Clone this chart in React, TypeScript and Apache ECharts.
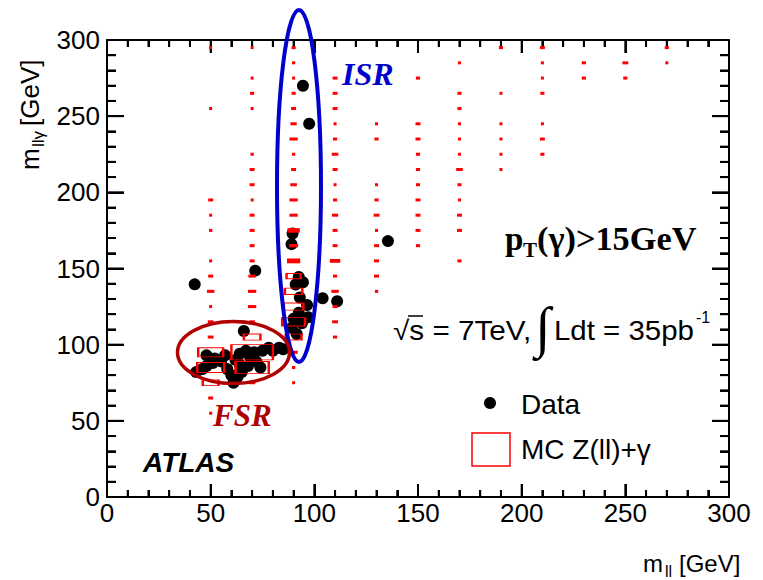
import React, { useEffect, useRef } from "react";
import * as echarts from "echarts";

// ---- layout of the plotting frame ----
const W = 763;
const H = 580;
const gridBox = { left: 107, right: 34, top: 40, bottom: 83 };

// ---- axis ranges / ticks ----
const xRange = [0, 300];
const yRange = [0, 300];
const tickStep = 50;
const minorStep = 10;
const xTickLen = [13, 7]; // major, minor
const yTickLen = [17, 9];

// ---- Data points [m_ll, m_llgamma] (GeV) ----
const dataPoints: number[][] = [
  [94.5, 270], [97.5, 245], [135.5, 168], [42.3, 139.6], [71.5, 148.6], [66, 109],
  [104, 130.5], [111, 128.5],
  [89.5, 173], [89, 166], [92.5, 144.5], [94.5, 141], [91, 139.5], [96.5, 126],
  [92.5, 121], [90, 117], [94, 114], [89, 111], [91.5, 107], [97, 118], [93, 131],
  [43, 82], [46, 84], [48, 86], [51, 88], [48, 93], [52, 91], [55, 89], [58, 84],
  [60, 80], [62, 77], [63, 79], [65, 82], [64, 87], [62, 90], [64, 94], [67, 96],
  [69, 92], [71, 95], [72, 89], [74, 85], [75, 96], [78, 98], [80, 96], [83, 98],
  [85, 97], [61, 75], [68, 86], [57, 93],
];

// ---- MC Z(ll)+gamma 2D histogram: [bin centre x, bin centre y, relative box size] ----
const mcBinWidth = [20, 10];
const mcCol50: number[][] = [
  [50, 295, 0.06], [50, 255, 0.06], [50, 195, 0.12], [50, 185, 0.06], [50, 175, 0.08],
  [50, 155, 0.06], [50, 145, 0.12], [50, 135, 0.18], [50, 125, 0.06], [50, 115, 0.14],
  [50, 105, 0.14], [50, 95, 0.6], [50, 85, 0.65], [50, 75, 0.38], [50, 65, 0.12], [50, 55, 0.07],
];
const mcCol70: number[][] = [
  [70, 295, 0.06], [70, 275, 0.06], [70, 265, 0.1], [70, 255, 0.06], [70, 225, 0.08],
  [70, 215, 0.12], [70, 205, 0.12], [70, 195, 0.06], [70, 185, 0.12], [70, 175, 0.12],
  [70, 165, 0.12], [70, 155, 0.12], [70, 145, 0.18], [70, 135, 0.2], [70, 125, 0.2],
  [70, 115, 0.14], [70, 105, 0.4], [70, 95, 1.0], [70, 85, 0.8], [70, 75, 0.15],
];
const mcCol90: number[][] = [
  [90, 295, 0.1], [90, 285, 0.08], [90, 275, 0.07], [90, 265, 0.1], [90, 255, 0.12],
  [90, 245, 0.15], [90, 235, 0.2], [90, 225, 0.08], [90, 215, 0.12], [90, 205, 0.16],
  [90, 195, 0.2], [90, 185, 0.2], [90, 175, 0.3], [90, 165, 0.22], [90, 155, 0.32],
  [90, 145, 0.34], [90, 135, 0.42], [90, 125, 0.47], [90, 115, 0.55], [90, 105, 0.38],
  [90, 95, 0.2], [90, 85, 0.08], [90, 75, 0.06],
];
const mcCol110: number[][] = [
  [110, 275, 0.12], [110, 265, 0.12], [110, 255, 0.12], [110, 245, 0.06], [110, 235, 0.1],
  [110, 225, 0.16], [110, 215, 0.12], [110, 205, 0.06], [110, 195, 0.1], [110, 185, 0.15],
  [110, 175, 0.12], [110, 165, 0.12], [110, 155, 0.25], [110, 145, 0.1], [110, 135, 0.18],
  [110, 125, 0.12], [110, 115, 0.14], [110, 105, 0.1],
];
const mcCol130: number[][] = [
  [130, 245, 0.06], [130, 235, 0.1], [130, 205, 0.06], [130, 195, 0.1], [130, 185, 0.14],
  [130, 175, 0.06], [130, 165, 0.12], [130, 155, 0.12], [130, 145, 0.12], [130, 135, 0.08],
];
const mcCol150: number[][] = [
  [150, 275, 0.1], [150, 245, 0.12], [150, 235, 0.12], [150, 225, 0.1], [150, 215, 0.1],
  [150, 205, 0.1], [150, 195, 0.12], [150, 185, 0.12], [150, 175, 0.12], [150, 165, 0.1],
];
const mcCol170: number[][] = [
  [170, 285, 0.06], [170, 265, 0.1], [170, 255, 0.1], [170, 245, 0.06], [170, 235, 0.07],
  [170, 225, 0.07], [170, 215, 0.16], [170, 205, 0.1], [170, 195, 0.06], [170, 185, 0.12],
  [170, 175, 0.12], [170, 155, 0.1],
];
const mcCol190: number[][] = [
  [190, 295, 0.1], [190, 265, 0.06], [190, 245, 0.06], [190, 235, 0.07], [190, 225, 0.06],
  [190, 215, 0.06],
];
const mcCol210: number[][] = [
  [210, 295, 0.12], [210, 285, 0.06], [210, 275, 0.06], [210, 265, 0.1], [210, 245, 0.06],
  [210, 235, 0.12], [210, 225, 0.1],
];
const mcColHigh: number[][] = [
  [230, 285, 0.1], [230, 275, 0.1], [250, 285, 0.14], [250, 275, 0.1], [270, 295, 0.1],
  [270, 285, 0.06],
];

const mcCells = [
  ...mcCol50, ...mcCol70, ...mcCol90, ...mcCol110, ...mcCol130, ...mcCol150,
  ...mcCol170, ...mcCol190, ...mcCol210, ...mcColHigh,
];

const SANS = "Liberation Sans, Arial, sans-serif";
const SERIF = "Liberation Serif, Times New Roman, serif";

// pixel size of one full MC bin, from the frame size and the axis ranges
const pxPerX = (W - gridBox.left - gridBox.right) / (xRange[1] - xRange[0]);
const pxPerY = (H - gridBox.top - gridBox.bottom) / (yRange[1] - yRange[0]);
const binPx = [mcBinWidth[0] * pxPerX, mcBinWidth[1] * pxPerY];

function boxSize(w: number) {
  return [Math.max(3, binPx[0] * w), Math.max(3, binPx[1] * w)];
}

const mcData = mcCells.map((c) => {
  const filled = boxSize(c[2])[1] < 5;
  return {
    value: c,
    itemStyle: filled
      ? { color: "#ff0000", borderWidth: 0, opacity: 1 }
      : { color: "rgba(0,0,0,0)", borderColor: "#ff0000", borderWidth: 1.5, opacity: 1 },
  };
});

// inward frame ticks (bottom/top for x, left/right for y), placed on the axes' scales
const tickData: any[] = [];
for (let v = xRange[0]; v <= xRange[1]; v += minorStep) {
  const len = v % tickStep === 0 ? xTickLen[0] : xTickLen[1];
  tickData.push({ value: [v, yRange[0]], symbolSize: [2, len], symbolOffset: [0, -len / 2] });
  tickData.push({ value: [v, yRange[1]], symbolSize: [2, len], symbolOffset: [0, len / 2] });
}
for (let v = yRange[0]; v <= yRange[1]; v += minorStep) {
  const len = v % tickStep === 0 ? yTickLen[0] : yTickLen[1];
  tickData.push({ value: [xRange[0], v], symbolSize: [len, 2], symbolOffset: [len / 2, 0] });
  tickData.push({ value: [xRange[1], v], symbolSize: [len, 2], symbolOffset: [-len / 2, 0] });
}

function baseAxis(pos: string, showLabel: boolean, range: number[], lens: number[]) {
  return {
    type: "value",
    position: pos,
    min: range[0],
    max: range[1],
    interval: tickStep,
    axisLine: { show: true, onZero: false, lineStyle: { color: "#000", width: 2 } },
    axisTick: { show: true, inside: true, length: lens[0], lineStyle: { color: "#000", width: 2 } },
    minorTick: { show: true, splitNumber: 5, length: lens[1], lineStyle: { color: "#000", width: 2 } },
    splitLine: { show: false },
    axisLabel: {
      show: showLabel,
      color: "#000",
      fontFamily: "Liberation Sans",
      fontSize: 26,
      margin: pos === "left" ? 7 : 3,
    },
  };
}

export default function App() {
  const ref = useRef<HTMLDivElement>(null);
  useEffect(() => {
    if (!ref.current) return;
    const chart = echarts.init(ref.current, null, { renderer: "svg" });
    const txt = (x: number, y: number, text: string, font: string, fill = "#000", extra: any = {}) => ({
      type: "text",
      x,
      y,
      ...extra,
      style: { text, font, fill, textAlign: "left", textVerticalAlign: "middle" },
    });
    chart.setOption({
      animation: false,
      grid: { ...gridBox },
      xAxis: [baseAxis("bottom", true, xRange, xTickLen), baseAxis("top", false, xRange, xTickLen)],
      yAxis: [baseAxis("left", true, yRange, yTickLen), baseAxis("right", false, yRange, yTickLen)],
      series: [
        {
          type: "scatter",
          data: tickData,
          symbol: "rect",
          clip: false,
          silent: true,
          itemStyle: { color: "#000", opacity: 1 },
        },
        {
          type: "scatter",
          data: dataPoints,
          symbol: "circle",
          symbolSize: 12,
          itemStyle: { color: "#000", opacity: 1 },
        },
        {
          type: "scatter",
          data: mcData,
          symbol: "rect",
          symbolSize: (val: number[]) => boxSize(val[2]),
        },
      ],
      graphic: [],
    });
    chart.setOption({
      graphic: [
        // ellipses
        { type: "ellipse", shape: { cx: 299, cy: 186, rx: 22, ry: 176 }, style: { fill: "none", stroke: "#0000cc", lineWidth: 4 }, z: 10 },
        { type: "ellipse", shape: { cx: 233.5, cy: 352.5, rx: 56, ry: 31 }, style: { fill: "none", stroke: "#b00000", lineWidth: 3.5 }, z: 10 },
        txt(342, 74, "ISR", `italic bold 32px ${SERIF}`, "#0000cc"),
        txt(213, 415, "FSR", `italic bold 31px ${SERIF}`, "#b00000"),
        txt(143, 462, "ATLAS", `italic bold 28px ${SANS}`, "#000"),
        // pT text
        txt(505, 239, "p", `bold 33px ${SERIF}`),
        txt(523, 250, "T", `bold 21px ${SERIF}`),
        txt(537, 239, "(γ)>15GeV", `bold 33px ${SERIF}`, "#000", { scaleX: 1.04, originX: 0, originY: 0 }),
        // sqrt(s) text
        txt(393, 330, "√s = 7TeV,", `27px ${SANS}`, "#000", { scaleX: 1.1, originX: 0, originY: 0 }),
        { type: "line", shape: { x1: 408, y1: 316, x2: 423, y2: 316 }, style: { stroke: "#000", lineWidth: 1.5 } },
        txt(535, 327, "∫", `56px ${SERIF}`),
        txt(554, 330, "Ldt = 35pb", `27px ${SANS}`, "#000", { scaleX: 1.09, originX: 0, originY: 0 }),
        txt(696, 317, "-1", `16px ${SANS}`),
        // legend
        { type: "circle", shape: { cx: 490, cy: 403, r: 6 }, style: { fill: "#000" } },
        txt(521, 404, "Data", `28px ${SANS}`),
        { type: "rect", shape: { x: 472, y: 433, width: 38, height: 33 }, style: { fill: "none", stroke: "#ff0000", lineWidth: 1.5 } },
        txt(521, 449, "MC Z(ll)+γ", `28px ${SANS}`),
        // x axis title
        txt(643, 563, "m", `24px ${SANS}`),
        txt(665, 571, "ll", `16px ${SANS}`),
        txt(679, 563, "[GeV]", `24px ${SANS}`),
        // y axis title (rotated)
        {
          type: "group",
          x: 30,
          y: 170,
          rotation: Math.PI / 2,
          children: [
            txt(0, 0, "m", `26px ${SANS}`),
            txt(23, 8, "llγ", `17px ${SANS}`),
            txt(44, 0, "[GeV]", `26px ${SANS}`),
          ],
        },
      ],
    });
    return () => chart.dispose();
  }, []);
  return <div ref={ref} style={{ position: "fixed", left: 0, top: 0, width: W, height: H, background: "#fff" }} />;
}
